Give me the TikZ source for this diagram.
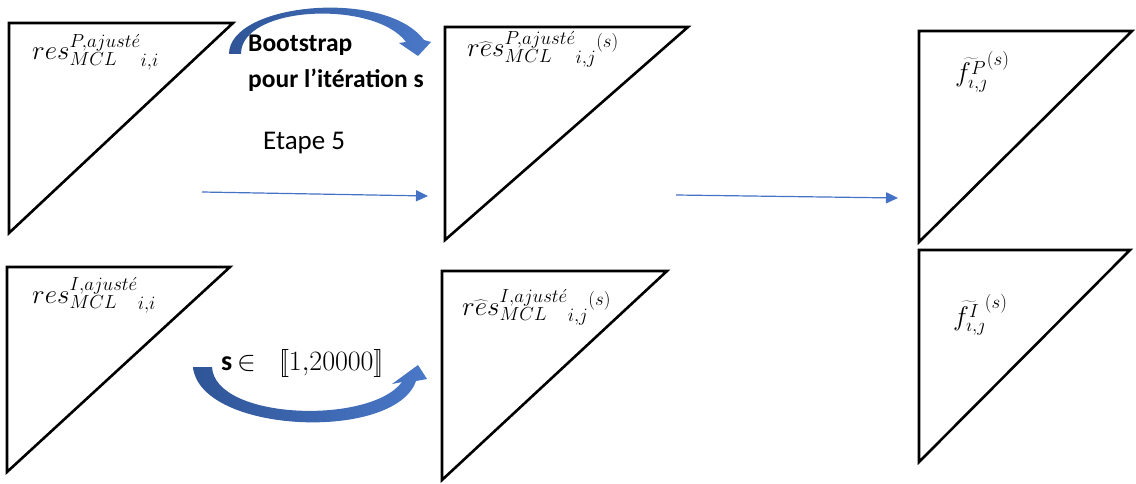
\RequirePackage{fix-cm}
\documentclass[tikz,border=0pt]{standalone}
\usepackage[no-math]{fontspec}
\setmainfont{Carlito}
\usetikzlibrary{arrows.meta}
\definecolor{flow}{HTML}{4472C4}
\definecolor{bendA}{HTML}{2F5597}
\definecolor{bendB}{HTML}{4A78C8}
% double square brackets built from two overlapping brackets
\newcommand{\dbopen}{\mathopen{[\mkern-2.6mu[}}
\newcommand{\dbclose}{\mathclose{]\mkern-2.6mu]}}
% residual symbol with its own scripts, boxed so that outer scripts can follow
\newcommand{\resbox}[2]{\hbox{$#1^{#2,ajust\acute{e}}_{MCL}$}}

\begin{document}
\begin{tikzpicture}[x=1pt,y=-1pt,
  tri/.style={line width=2.6pt, line join=miter},
  flowarrow/.style={draw=flow, line width=1.2pt, -{Triangle[length=12pt,width=11pt]}},
  bendarrow/.style={left color=bendA, right color=bendB, draw=none},
  lbl/.style={anchor=base west, inner sep=0pt, font=\fontsize{27}{32}\selectfont},
  capt/.style={anchor=base west, inner sep=0pt, font=\fontsize{25.5}{30}\selectfont\bfseries},
  plain/.style={anchor=base west, inner sep=0pt, font=\fontsize{27}{32}\selectfont},
]
\useasboundingbox (0,0) rectangle (1136,484);

% residual triangles (P and I), original and resampled
\draw[tri] (9,23) -- (233,23) -- (9,233) -- cycle;
\draw[tri] (7,267) -- (230,267) -- (7,472) -- cycle;
\draw[tri] (445,27) -- (688,27) -- (445,240) -- cycle;
\draw[tri] (442,271) -- (667,271) -- (442,480) -- cycle;
% resulting development factors
\draw[tri] (919,31) -- (1132,31) -- (919,242) -- cycle;
\draw[tri] (919,250) -- (1130,250) -- (919,462) -- cycle;

% labels inside the triangles
\node[lbl] (lP) at (32,60) {$\resbox{res}{P}_{i,i}$};
\node[lbl] (lI) at (32,303) {$\resbox{res}{I}_{i,i}$};
\node[lbl] (lPs) at (467,57) {$\resbox{\widehat{res}}{P}_{i,j}{}^{(s)}$};
\node[lbl] (lIs) at (462,315) {$\resbox{\widehat{res}}{I}_{i,j}{}^{(s)}$};
\node[lbl] (fP) at (955,82) {$\widetilde{f^{P}_{\imath,\jmath}}^{(s)}$};
\node[lbl] (fI) at (953,325) {$\widetilde{f^{I}_{\imath,\jmath}}^{(s)}$};

% captions
\node[capt] (boot1) at (248,52) {Bootstrap};
\node[capt] (boot2) at (248,88) {pour l’itération s};
\node[plain] (etape) at (263,150) {Etape 5};
\node[anchor=base west, inner sep=0pt, font=\fontsize{28}{33}\selectfont] (range) at (221,370)
  {\textbf{s}\,$\in\;\;\dbopen 1{,}20000\dbclose$};

% straight flow arrows
\coordinate (a1s) at (202,192);
\coordinate (a1e) at (428,196);
\coordinate (a2s) at (676,195);
\coordinate (a2e) at (898,198);
\draw[flowarrow] (a1s) -- (a1e);
\draw[flowarrow] (a2s) -- (a2e);

% curved bootstrap arrow over the top
\shade[bendarrow] (229,54) .. controls (229,3) and (385,-12) .. (424,40)
  -- (431,42) -- (418,56) -- (399,43) -- (406,42)
  .. controls (375,0) and (241,5) .. (241,54) -- cycle;

% curved arrow under the range
\shade[bendarrow] (193,367) .. controls (200,434) and (395,442) .. (416,381)
  -- (427,379) -- (418,365) -- (392,384) -- (402,382)
  .. controls (370,425) and (215,420) .. (212,367) -- cycle;
\end{tikzpicture}
\end{document}
